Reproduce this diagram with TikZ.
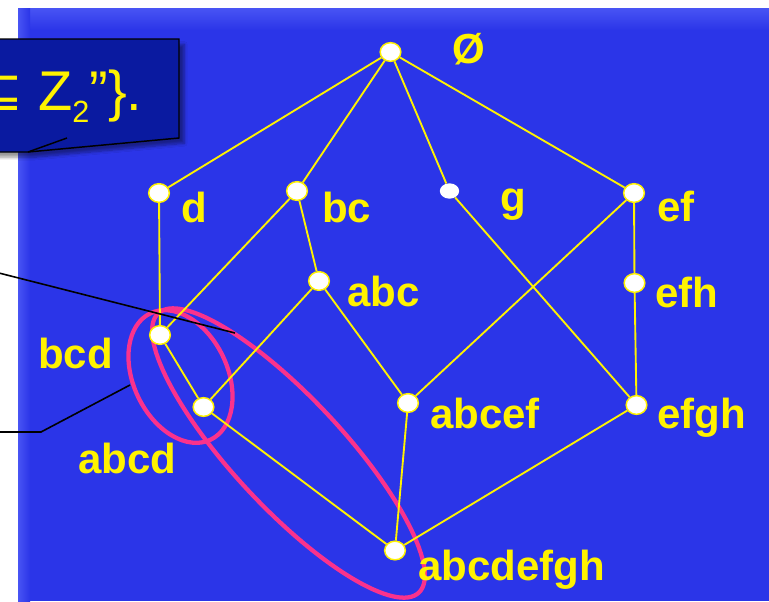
\documentclass[tikz,border=0pt]{standalone}
\usepackage{fontspec}
\setmainfont{Liberation Sans}
\newfontfamily\symfont{DejaVu Sans}
\usetikzlibrary{shapes.geometric}
\usetikzlibrary{shadows.blur}

\definecolor{slide}{RGB}{43,53,232}
\definecolor{slidetop}{RGB}{72,84,244}
\definecolor{boxblue}{RGB}{10,26,160}
\definecolor{rosy}{RGB}{250,50,140}

\tikzset{
  elem/.style={ellipse, draw=yellow, fill=white, line width=1.1pt, minimum width=15.5pt, minimum height=14pt, inner sep=0pt},
  elemplain/.style={ellipse, fill=white, minimum width=14.5pt, minimum height=11.5pt, inner sep=0pt},
  setname/.style={text=yellow, font=\fontsize{31.5}{32}\selectfont\bfseries, inner sep=0pt, anchor=base west},
  hasse/.style={draw=yellow, line width=1.4pt},
  ring/.style={draw=rosy, line width=3.2pt},
  pointer/.style={draw=black, line width=1.2pt}
}

\begin{document}
\begin{tikzpicture}[x=0.75pt, y=-0.75pt]
\useasboundingbox (0,0) rectangle (769,601);

% Slide
\fill[slide] (18,8) rectangle (769,601);
\shade[top color=slidetop, bottom color=slide] (18,8) rectangle (769,30);
\shade[left color=slidetop, right color=slide] (18,8) rectangle (30,601);

% Callout
\filldraw[fill=boxblue, draw=black, line width=1.1pt, blur shadow={shadow xshift=4pt, shadow yshift=-4pt, shadow blur steps=8}]
  (-10,39) -- (179,39) -- (179,138) -- (28,152) -- (-10,152) -- cycle;
\draw[black, line width=1.1pt] (67,138) -- (28,152);
\node[anchor=base east, text=yellow, font=\fontsize{42}{42}\selectfont\symfont, inner sep=0pt] (subset) at (24,110) {⊆};
\node[anchor=base west, text=yellow, font=\fontsize{42}{42}\selectfont, inner sep=0pt] (zset) at (38,110)
  {Z\raisebox{-9pt}{\fontsize{23}{23}\selectfont 2}''\}.};

% Rings
\draw[ring, rotate around={-64.5:(180.5,376.5)}] (180.5,376.5) ellipse [x radius=70, y radius=47];
\draw[ring, rotate around={-47:(288.5,453)}] (288.5,453) ellipse [x radius=191, y radius=55];

% Elements
\node[elem] (empty) at (390.5,52) {};
\node[elem] (d) at (159,193) {};
\node[elem] (bc) at (297,191) {};
\node[elemplain] (g) at (449.5,191) {};
\node[elem] (ef) at (634,193) {};
\node[elem] (abc) at (319,281) {};
\node[elem] (efh) at (634.5,283) {};
\node[elem] (bcd) at (160,335) {};
\node[elem] (abcd) at (203.5,407) {};
\node[elem] (abcef) at (408,403) {};
\node[elem] (efgh) at (636.5,405) {};
\node[elem] (all) at (395,550.5) {};

% Order
\draw[hasse] (empty) -- (d);
\draw[hasse] (empty) -- (bc);
\draw[hasse] (empty) -- (g);
\draw[hasse] (empty) -- (ef);
\draw[hasse] (d) -- (bcd);
\draw[hasse] (bc) -- (bcd);
\draw[hasse] (bc) -- (abc);
\draw[hasse] (g) -- (efgh);
\draw[hasse] (ef) -- (abcef);
\draw[hasse] (ef) -- (efh);
\draw[hasse] (efh) -- (efgh);
\draw[hasse] (abc) -- (abcd);
\draw[hasse] (abc) -- (abcef);
\draw[hasse] (bcd) -- (abcd);
\draw[hasse] (abcd) -- (all);
\draw[hasse] (abcef) -- (all);
\draw[hasse] (efgh) -- (all);

% Pointers
\coordinate (tipA) at (-5,272);
\coordinate (endA) at (235,333);
\coordinate (tipB) at (-5,432);
\coordinate (bendB) at (41,432);
\coordinate (endB) at (130,385);
\draw[pointer] (tipA) -- (endA);
\draw[pointer] (tipB) -- (bendB) -- (endB);

% Names
\node[setname] (lempty) at (452,63) {Ø};
\node[setname] (ld) at (181,222) {d};
\node[setname] (lbc) at (322,222) {bc};
\node[setname] (lg) at (500,211) {g};
\node[setname] (lef) at (657,221) {ef};
\node[setname] (labc) at (347,306) {abc};
\node[setname] (lefh) at (655,307) {efh};
\node[setname] (lbcd) at (38,368) {bcd};
\node[setname] (labcd) at (78,473) {abcd};
\node[setname] (labcef) at (430,428) {abcef};
\node[setname] (lefgh) at (657,428) {efgh};
\node[setname] (lall) at (418,580) {abcdefgh};
\end{tikzpicture}
\end{document}
